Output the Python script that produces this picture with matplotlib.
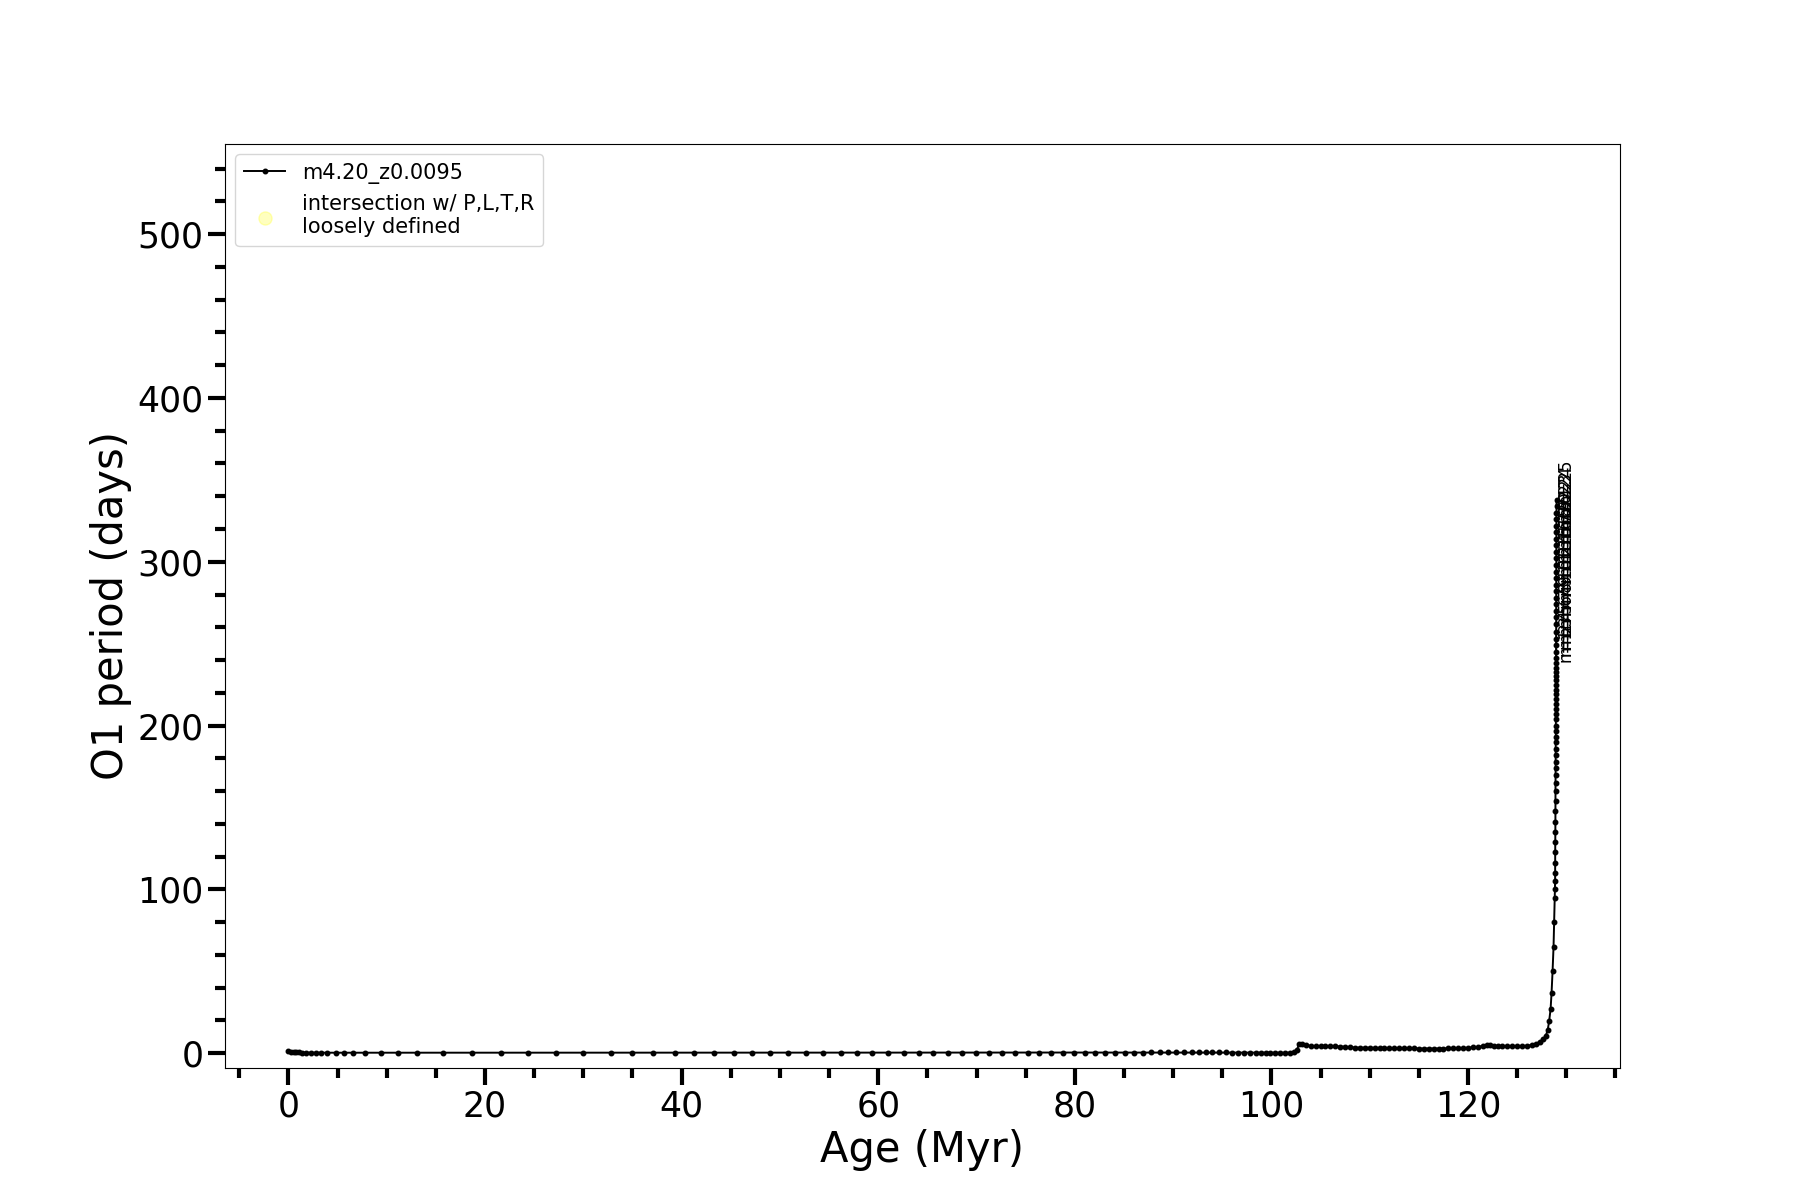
import numpy as np
import matplotlib
matplotlib.use("Agg")
import matplotlib.pyplot as plt
from matplotlib.ticker import MultipleLocator

# main sequence part of the track (age in Myr, O1 period in days)
age_ms = [0.0, 0.3, 0.58, 0.75, 1.09, 1.42, 1.77, 2.28, 2.79, 3.3,
          3.97, 4.82, 5.7, 6.6, 7.8, 9.4, 11.1, 13.1, 15.7, 18.7,
          21.6, 24.4, 27.2, 30.0, 32.8, 35.0, 37.1, 39.3, 41.3, 43.3,
          45.3, 47.2, 49.0, 50.8, 52.7, 54.4, 56.2, 57.8, 59.4, 61.0,
          62.6, 64.1, 65.6, 67.1, 68.5, 69.9, 71.3, 72.6, 73.9, 75.2,
          76.4, 77.6, 78.8, 79.9, 81.0, 82.1, 83.1, 84.1, 85.1, 86.0,
          86.9, 87.8, 88.7, 89.5, 90.3, 91.1, 91.9, 92.6, 93.3, 94.0,
          94.7, 95.4, 96.0, 96.6, 97.2, 97.8, 98.4, 98.9, 99.4, 99.9,
          100.4, 100.9, 101.4, 101.9, 102.3]
period_ms = [1.6, 0.9, 0.7, 0.6, 0.5, 0.45, 0.4, 0.38, 0.36, 0.35,
             0.34, 0.33, 0.33, 0.32, 0.32, 0.32, 0.32, 0.32, 0.32, 0.33,
             0.33, 0.33, 0.34, 0.34, 0.34, 0.35, 0.35, 0.35, 0.36, 0.36,
             0.36, 0.37, 0.37, 0.37, 0.38, 0.38, 0.38, 0.39, 0.39, 0.39,
             0.40, 0.40, 0.40, 0.41, 0.41, 0.41, 0.42, 0.42, 0.42, 0.43,
             0.43, 0.43, 0.44, 0.44, 0.44, 0.45, 0.45, 0.45, 0.46, 0.46,
             0.46, 0.47, 0.47, 0.47, 0.48, 0.48, 0.48, 0.49, 0.49, 0.49,
             0.48, 0.47, 0.46, 0.45, 0.43, 0.41, 0.39, 0.37, 0.35, 0.33,
             0.31, 0.30, 0.32, 0.40, 0.55]

# post main sequence
age_post = [102.6, 102.8, 103.1, 103.5, 104.0, 104.5, 105.0, 105.5, 106.0, 106.5,
            107.0, 107.5, 108.0, 108.5, 109.0, 109.5, 110.0, 110.5, 111.0, 111.5,
            112.0, 112.5, 113.0, 113.5, 114.0, 114.5, 115.0, 115.5, 116.0, 116.5,
            117.0, 117.5, 118.0, 118.5, 119.0, 119.5, 120.0, 120.5, 121.0, 121.5,
            121.9, 122.2, 122.6, 123.0, 123.5, 124.0, 124.5, 125.0, 125.5, 126.0,
            126.5, 126.9, 127.3, 127.6, 127.9, 128.1, 128.25, 128.4, 128.5, 128.6,
            128.7, 128.76, 128.82]
period_post = [2.0, 5.5, 5.7, 4.9, 4.5, 4.4, 4.3, 4.3, 4.2, 4.2,
               4.1, 4.0, 3.7, 3.5, 3.4, 3.4, 3.4, 3.3, 3.3, 3.3,
               3.2, 3.2, 3.2, 3.1, 3.1, 3.0, 2.9, 2.9, 2.9, 2.9,
               2.9, 2.9, 3.0, 3.0, 3.1, 3.2, 3.4, 3.6, 3.9, 4.4,
               5.0, 5.1, 4.4, 4.2, 4.2, 4.2, 4.3, 4.3, 4.4, 4.6,
               5.0, 5.8, 7.0, 8.5, 10.5, 14.0, 19.5, 27.0, 37.0, 50.0,
               65.0, 80.0, 95.0]

# final spike
age_rise = [128.85, 128.86, 128.86, 128.87, 128.87, 128.88, 128.88, 128.89, 128.89, 128.90,
            128.90, 128.90, 128.91, 128.91, 128.91, 128.92, 128.92, 128.92, 128.93, 128.93,
            128.93, 128.93, 128.94, 128.94, 128.94, 128.94, 128.94, 128.95, 128.95, 128.95,
            128.95, 128.95, 128.95, 128.95]
period_rise = [100, 105, 110, 116, 123, 129, 135, 141, 148, 154,
               160, 165, 170, 174, 178, 182, 186, 190, 193, 197,
               200, 204, 207, 210, 213, 216, 219, 222, 225, 228,
               230, 233, 235, 238]

age_tip = [128.95, 128.96, 128.96, 128.96, 128.97, 128.97, 128.97, 128.97, 128.98,
           128.98, 128.98, 128.98, 128.98, 128.99, 128.99, 128.99, 128.99, 128.99,
           129.0, 129.0, 129.0, 129.0, 129.0, 129.01, 129.01]
period_tip = [241, 245, 249, 253, 257, 262, 266, 270, 274,
              278, 282, 286, 290, 294, 298, 302, 306, 310,
              314, 318, 322, 326, 330, 334, 338]
tip_labels = ["n=%d" % (i + 1) for i in range(len(period_tip))]

age = np.concatenate([age_ms, age_post, age_rise, age_tip])
period = np.concatenate([period_ms, period_post, period_rise, period_tip])

fig, ax = plt.subplots(figsize=(18, 12), dpi=100)

ax.plot(age, period, color='k', lw=1.4, marker='.', ms=6.5, label='m4.20_z0.0095')
ax.scatter([], [], s=90, color='yellow', alpha=0.25,
           label='intersection w/ P,L,T,R\nloosely defined')

for x, y, lab in zip(age_tip, period_tip, tip_labels):
    ax.text(x, y, lab, rotation=90, fontsize=12)

ax.set_ylim(-9, 555)
ax.xaxis.set_major_locator(MultipleLocator(20))
ax.xaxis.set_minor_locator(MultipleLocator(5))
ax.yaxis.set_major_locator(MultipleLocator(100))
ax.yaxis.set_minor_locator(MultipleLocator(20))
ax.tick_params(which='major', length=12, width=3, labelsize=25)
ax.tick_params(which='minor', length=7, width=3)

ax.set_xlabel('Age (Myr)', fontsize=30)
ax.set_ylabel('O1 period (days)', fontsize=30)
ax.legend(loc='upper left', fontsize=15)

plt.savefig('out.png')
